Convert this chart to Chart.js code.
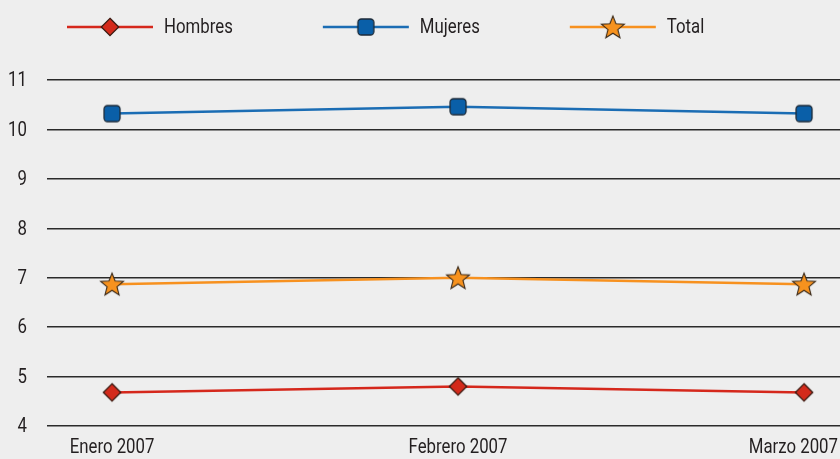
<!DOCTYPE html>
<html>
<head>
<meta charset="utf-8">
<script src="https://cdn.jsdelivr.net/npm/chart.js@4/dist/chart.umd.min.js"></script>
<style>
  html, body { margin: 0; padding: 0; background: #eeeeee; overflow: hidden; }
  #wrap { width: 840px; height: 459px; }
</style>
</head>
<body>
<div id="wrap"><canvas id="chart"></canvas></div>
<script>
// DATA
const months = ['Enero 2007', 'Febrero 2007', 'Marzo 2007'];
const hombres = [4.68, 4.8, 4.68];
const mujeres = [10.32, 10.46, 10.32];
const total = [6.87, 7.0, 6.87];
const yTicks = [4, 5, 6, 7, 8, 9, 10, 11];

// condensed look: Roboto squeezed horizontally
const FONT = '21px Roboto, "Liberation Sans", sans-serif';
const SQUEEZE = 0.8;
const INK = '#231f20';

// MARKERS
function marker(size, draw) {
    const c = document.createElement('canvas');
    c.width = size; c.height = size;
    draw(c.getContext('2d'), size / 2);
    return c;
}
const diamond = marker(22, (ctx, m) => {
    ctx.beginPath();
    ctx.moveTo(m, m - 8.7); ctx.lineTo(m + 8.7, m); ctx.lineTo(m, m + 8.7); ctx.lineTo(m - 8.7, m);
    ctx.closePath();
    ctx.fillStyle = '#d32a1b'; ctx.fill();
    ctx.strokeStyle = '#3b1d14'; ctx.lineWidth = 1.3; ctx.stroke();
});
const square = marker(22, (ctx, m) => {
    ctx.beginPath();
    ctx.roundRect(m - 8, m - 8, 16, 16, 3.5);
    ctx.fillStyle = '#0a5fa8'; ctx.fill();
    ctx.strokeStyle = '#1c2a38'; ctx.lineWidth = 1.3; ctx.stroke();
});
const star = marker(28, (ctx, m) => {
    ctx.beginPath();
    for (let i = 0; i < 10; i++) {
        const r = i % 2 === 0 ? 12 : 5.2;
        const a = -Math.PI / 2 + i * Math.PI / 5;
        ctx.lineTo(m + r * Math.cos(a), m + 1 + r * Math.sin(a));
    }
    ctx.closePath();
    ctx.fillStyle = '#f7921e'; ctx.fill();
    ctx.strokeStyle = '#3a2a1a'; ctx.lineWidth = 1.1; ctx.stroke();
});

const toPoints = arr => arr.map((v, i) => ({ x: i, y: v }));

// squeezed text helper
function text(ctx, str, x, y, align) {
    const w = ctx.measureText(str).width * SQUEEZE;
    let left = x;
    if (align === 'center') left = x - w / 2;
    if (align === 'right') left = x - w;
    ctx.save();
    ctx.translate(left, y);
    ctx.scale(SQUEEZE, 1);
    ctx.textAlign = 'left';
    ctx.fillText(str, 0, 0);
    ctx.restore();
    return w;
}

// LEGEND + AXIS LABELS
const decor = {
    id: 'decor',
    afterDraw(chart) {
        const ctx = chart.ctx;
        ctx.save();
        ctx.font = FONT;
        ctx.fillStyle = INK;
        ctx.textBaseline = 'middle';

        let x = 67;
        const y = 27;
        chart.data.datasets.forEach(ds => {
            ctx.strokeStyle = ds.borderColor;
            ctx.lineWidth = 2.5;
            ctx.beginPath(); ctx.moveTo(x, y); ctx.lineTo(x + 86, y); ctx.stroke();
            const img = ds.pointStyle;
            ctx.drawImage(img, x + 43 - img.width / 2, y - img.height / 2);
            const w = text(ctx, ds.label, x + 97, y + 1, 'left');
            x += 97 + w + 90;
        });

        const ys = chart.scales.y;
        yTicks.forEach(v => text(ctx, String(v), 27, ys.getPixelForValue(v) + 1, 'right'));

        const xs = chart.scales.x;
        months.forEach((m, i) => {
            const w = ctx.measureText(m).width * SQUEEZE;
            let px = xs.getPixelForValue(i);
            px = Math.min(px, chart.width - 2 - w / 2);
            text(ctx, m, px, 448, 'center');
        });
        ctx.restore();
    }
};

new Chart(document.getElementById('chart'), {
    type: 'line',
    data: {
        datasets: [
            { label: 'Hombres', data: toPoints(hombres), borderColor: '#d5281c', pointStyle: diamond },
            { label: 'Mujeres', data: toPoints(mujeres), borderColor: '#1b6db4', pointStyle: square },
            { label: 'Total', data: toPoints(total), borderColor: '#f7911f', pointStyle: star }
        ]
    },
    options: {
        responsive: true,
        maintainAspectRatio: false,
        animation: false,
        elements: { line: { borderWidth: 2.5, tension: 0 } },
        layout: { autoPadding: false, padding: { top: 80, bottom: 33, left: 0, right: 0 } },
        plugins: { legend: { display: false }, tooltip: { enabled: false } },
        scales: {
            x: { type: 'linear', display: false, min: -0.188, max: 2.104 },
            y: {
                min: 4, max: 11,
                afterBuildTicks: s => { s.ticks = yTicks.map(v => ({ value: v })); },
                afterFit: s => { s.width = 47; },
                border: { display: false },
                grid: { color: '#2a2a2a', lineWidth: 1.4, drawTicks: false },
                ticks: { display: false }
            }
        }
    },
    plugins: [decor]
});
</script>
</body>
</html>
